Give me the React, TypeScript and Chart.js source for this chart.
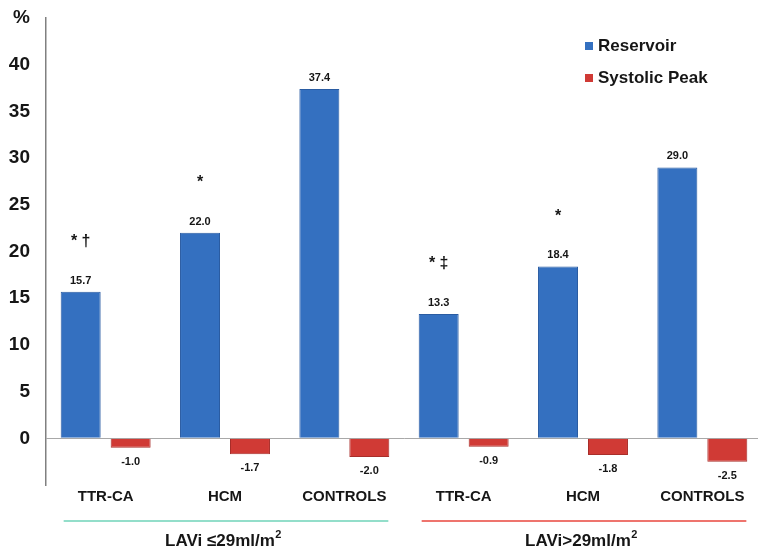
import React, { useEffect, useRef } from 'react';
import { Chart, registerables } from 'chart.js';

Chart.register(...registerables);

const categories = ['TTR-CA', 'HCM', 'CONTROLS', 'TTR-CA', 'HCM', 'CONTROLS'];
const reservoir = [15.7, 22.0, 37.4, 13.3, 18.4, 29.0];
const systolicPeak = [-1.0, -1.7, -2.0, -0.9, -1.8, -2.5];
const significance = ['* †', '*', '', '* ‡', '*', ''];
const seriesNames = ['Reservoir', 'Systolic Peak'];
const seriesColors = ['#3470c0', '#d03a35'];
const seriesBorders = ['#2a5ca2', '#a82e2a'];
const groupLabels = ['LAVi ≤29ml/m', 'LAVi>29ml/m'];
const groupSuperscripts = ['2', '2'];
const groupFirst = [0, 3];
const groupLast = [2, 5];
const groupColors = ['#6fd3b8', '#e8463c'];
const yMin = -5;
const yMax = 45;
const yStep = 5;
const yUnit = '%';

const FONT = '"Liberation Sans", Arial, sans-serif';

const overlay = {
  id: 'overlay',
  afterDatasetsDraw(chart: any) {
    const ctx = chart.ctx;
    ctx.save();
    ctx.fillStyle = '#161616';
    ctx.textAlign = 'center';
    ctx.textBaseline = 'middle';
    chart.data.datasets.forEach((ds: any, di: number) => {
      const meta = chart.getDatasetMeta(di);
      meta.data.forEach((bar: any, i: number) => {
        const v = ds.data[i];
        const p = bar.getProps(['x', 'y', 'base'], true);
        ctx.font = `bold 11px ${FONT}`;
        if (v >= 0) {
          ctx.fillText(v.toFixed(1), p.x, p.y - 11);
          if (significance[i]) {
            ctx.font = `bold 16px ${FONT}`;
            ctx.fillText(significance[i], p.x, p.y - 50);
          }
        } else {
          ctx.fillText(v.toFixed(1), p.x, p.y + 14);
        }
      });
    });
    ctx.restore();
  },
  afterDraw(chart: any) {
    const ctx = chart.ctx;
    const xs = chart.scales.x;
    ctx.save();
    // group brackets
    groupLabels.forEach((label, g) => {
      const x0 = xs.getPixelForValue(groupFirst[g]) - 42;
      const x1 = xs.getPixelForValue(groupLast[g]) + 44;
      ctx.strokeStyle = groupColors[g];
      ctx.lineWidth = 1.5;
      ctx.beginPath();
      ctx.moveTo(x0, 521);
      ctx.lineTo(x1, 521);
      ctx.stroke();
      ctx.font = `bold 17px ${FONT}`;
      const w = ctx.measureText(label).width;
      ctx.font = `bold 11px ${FONT}`;
      const ws = ctx.measureText(groupSuperscripts[g]).width;
      const cx = (x0 + x1) / 2 - 3;
      const left = cx - (w + ws) / 2;
      ctx.fillStyle = '#161616';
      ctx.textAlign = 'left';
      ctx.textBaseline = 'alphabetic';
      ctx.font = `bold 17px ${FONT}`;
      ctx.fillText(label, left, 546);
      ctx.font = `bold 11px ${FONT}`;
      ctx.fillText(groupSuperscripts[g], left + w + 0.5, 538);
    });
    // legend
    seriesNames.forEach((name, i) => {
      const y = 46 + i * 32;
      ctx.fillStyle = seriesColors[i];
      ctx.fillRect(585, y - 4, 8, 8);
      ctx.fillStyle = '#161616';
      ctx.font = `bold 17px ${FONT}`;
      ctx.textAlign = 'left';
      ctx.textBaseline = 'middle';
      ctx.fillText(name, 598, y);
    });
    ctx.restore();
  },
};

export default function App() {
  const ref = useRef<HTMLCanvasElement>(null);
  useEffect(() => {
    document.body.style.margin = '0';
    document.body.style.overflow = 'hidden';
    const chart = new Chart(ref.current as HTMLCanvasElement, {
      type: 'bar',
      data: {
        labels: categories,
        datasets: [
          {
            label: seriesNames[0],
            data: reservoir,
            backgroundColor: seriesColors[0],
            borderColor: seriesBorders[0],
            borderWidth: 1,
            categoryPercentage: 0.8375,
            barPercentage: 0.8,
          },
          {
            label: seriesNames[1],
            data: systolicPeak,
            backgroundColor: seriesColors[1],
            borderColor: seriesBorders[1],
            borderWidth: 1,
            categoryPercentage: 0.8375,
            barPercentage: 0.8,
          },
        ],
      },
      options: {
        responsive: false,
        animation: false,
        devicePixelRatio: 1,
        layout: { padding: { top: 18, right: 8, left: 0, bottom: 0 } },
        plugins: {
          legend: { display: false },
          tooltip: { enabled: false },
        },
        scales: {
          x: {
            grid: { display: false, drawTicks: false },
            border: { display: false },
            ticks: {
              color: '#161616',
              font: { family: FONT, size: 15, weight: 'bold' },
              padding: 3,
              maxRotation: 0,
              autoSkip: false,
            },
            afterFit: (s: any) => {
              s.height = 68;
              s.paddingLeft = 0;
              s.paddingRight = 0;
            },
          },
          y: {
            min: yMin,
            max: yMax,
            grid: {
              drawTicks: false,
              color: (c: any) => (c.tick && c.tick.value === 0 ? '#a8a8a8' : 'rgba(0,0,0,0)'),
              lineWidth: 1,
            },
            border: { display: true, color: '#808080', width: 1.5 },
            ticks: {
              stepSize: yStep,
              color: '#161616',
              font: { family: FONT, size: 19, weight: 'bold' },
              padding: 16,
              callback: (v: any) => (v === yMax ? yUnit : v < 0 ? '' : String(v)),
            },
            afterFit: (s: any) => {
              s.width = 46;
              s.paddingTop = 0;
              s.paddingBottom = 0;
            },
          },
        },
      },
      plugins: [overlay],
    } as any);
    return () => chart.destroy();
  }, []);
  return (
    <div style={{ position: 'fixed', left: 0, top: 0, width: 758, height: 553, overflow: 'hidden', background: '#fff' }}>
      <canvas ref={ref} width={770} height={553} style={{ width: 770, height: 553, display: 'block' }} />
    </div>
  );
}
